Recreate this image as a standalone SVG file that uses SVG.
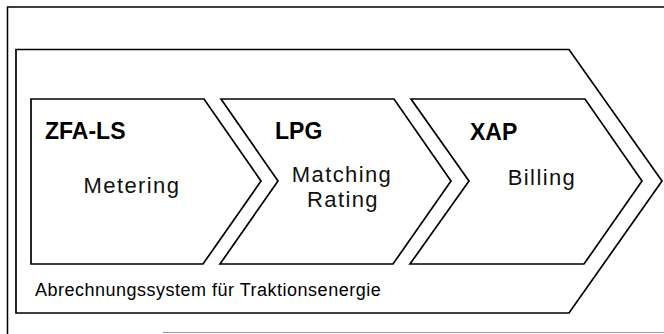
<svg xmlns="http://www.w3.org/2000/svg" width="664" height="334" viewBox="0 0 664 334">
<style>
.shape{fill:none;stroke:#000;stroke-width:1.7;stroke-linejoin:miter}
.title{font-family:"Liberation Sans",Arial,sans-serif;font-weight:bold;font-size:23px;fill:#000}
.label{font-family:"Liberation Sans",Arial,sans-serif;font-size:22px;fill:#111;letter-spacing:1.4px;text-anchor:middle}
.caption{font-family:"Liberation Sans",Arial,sans-serif;font-size:18px;fill:#000;letter-spacing:0.5px}
</style>
<rect width="664" height="334" fill="#fff"/>
<g id="frame">
<path d="M7.5,334 V7 H664" fill="none" stroke="#000" stroke-width="1.5"/>
<path d="M163,332.5 H664" fill="none" stroke="#999" stroke-width="1.2"/>
</g>
<g id="system">
<path class="shape" d="M16,49.5 H569 L662,181 L569,313 H16 Z"/>
<text class="caption" x="35" y="296">Abrechnungssystem für Traktionsenergie</text>
</g>
<g id="zfa-ls">
<path class="shape" d="M31,99 H204 L261,181 L203,264 H31 Z"/>
<text class="title" x="45" y="139">ZFA-LS</text>
<text class="label" x="132" y="193">Metering</text>
</g>
<g id="lpg">
<path class="shape" d="M221,99 H394 L451,181 L393,264 H220 L278,181 Z"/>
<text class="title" x="275" y="139">LPG</text>
<text class="label" x="342" y="182">Matching</text>
<text class="label" x="343" y="207">Rating</text>
</g>
<g id="xap">
<path class="shape" d="M411,99 H585 L642,181 L584,264 H410 L469,181 Z"/>
<text class="title" x="470" y="140">XAP</text>
<text class="label" x="542" y="185">Billing</text>
</g>
<g id="connectors"/>
</svg>
